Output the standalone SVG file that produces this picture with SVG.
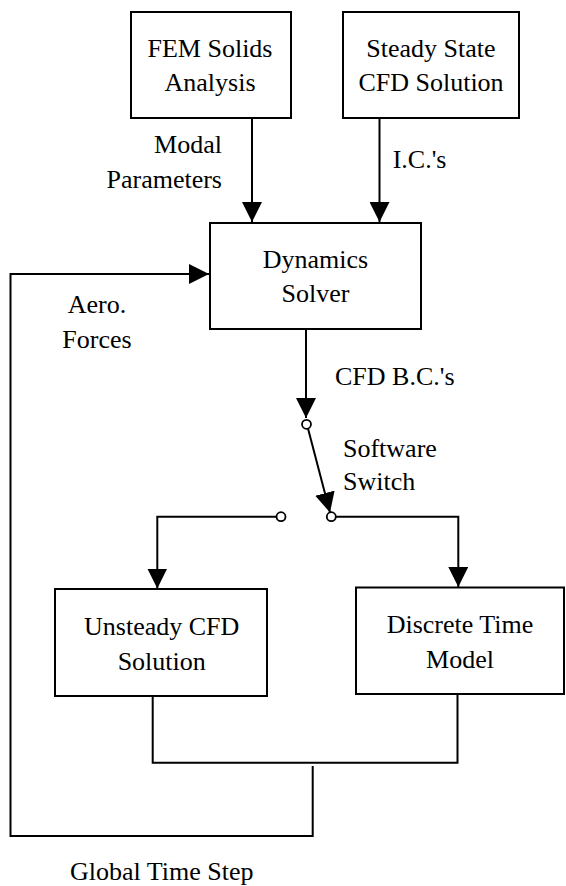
<svg xmlns="http://www.w3.org/2000/svg" width="566" height="886" viewBox="0 0 566 886">
<defs>
  <marker id="arr" markerUnits="userSpaceOnUse" markerWidth="20" markerHeight="20" refX="20" refY="10" orient="auto">
    <path d="M0,0 L20,10 L0,20 z" fill="#000"/>
  </marker>
</defs>
<rect width="566" height="886" fill="#fff"/>
<g id="connectors" fill="none" stroke="#000" stroke-width="2">
  <path marker-end="url(#arr)" d="M252,118 V222"/>
  <path marker-end="url(#arr)" d="M379.5,118 V222"/>
  <path marker-end="url(#arr)" d="M312.7,766 V836 H10.5 V274 H209"/>
  <path d="M152.7,696 V762.7 H457.5 V694"/>
  <path marker-end="url(#arr)" d="M306,329 V418"/>
  <path marker-end="url(#arr)" d="M308,428.5 L330,512.5"/>
  <path marker-end="url(#arr)" d="M276.5,516.7 H157.3 V588.5"/>
  <path marker-end="url(#arr)" d="M335.8,516.7 H458.3 V587"/>
  <circle fill="#fff" stroke-width="1.8" cx="306.5" cy="424.3" r="4.5"/>
  <circle fill="#fff" stroke-width="1.8" cx="281" cy="516.7" r="4.5"/>
  <circle fill="#fff" stroke-width="1.8" cx="331.3" cy="516.7" r="4.5"/>
</g>
<g id="fem">
  <rect fill="#fff" stroke="#000" stroke-width="2" x="131" y="12" width="160" height="106"/>
  <text font-family="Liberation Serif" font-size="26" text-anchor="middle" x="210" y="57">FEM Solids</text>
  <text font-family="Liberation Serif" font-size="26" text-anchor="middle" x="210" y="91">Analysis</text>
</g>
<g id="steady">
  <rect fill="#fff" stroke="#000" stroke-width="2" x="343" y="12" width="176" height="106"/>
  <text font-family="Liberation Serif" font-size="26" text-anchor="middle" x="431" y="57">Steady State</text>
  <text font-family="Liberation Serif" font-size="26" text-anchor="middle" x="431" y="91">CFD Solution</text>
</g>
<g id="dynamics">
  <rect fill="#fff" stroke="#000" stroke-width="2" x="210" y="223" width="211" height="106"/>
  <text font-family="Liberation Serif" font-size="26" text-anchor="middle" x="315.5" y="268">Dynamics</text>
  <text font-family="Liberation Serif" font-size="26" text-anchor="middle" x="315.5" y="302">Solver</text>
</g>
<g id="unsteady">
  <rect fill="#fff" stroke="#000" stroke-width="2" x="55" y="589" width="212" height="107"/>
  <text font-family="Liberation Serif" font-size="26" text-anchor="middle" x="161.7" y="635">Unsteady CFD</text>
  <text font-family="Liberation Serif" font-size="26" text-anchor="middle" x="161.7" y="670">Solution</text>
</g>
<g id="discrete">
  <rect fill="#fff" stroke="#000" stroke-width="2" x="356" y="587.5" width="208" height="106.5"/>
  <text font-family="Liberation Serif" font-size="26" text-anchor="middle" x="460" y="633.3">Discrete Time</text>
  <text font-family="Liberation Serif" font-size="26" text-anchor="middle" x="460" y="667.7">Model</text>
</g>
<g id="labels">
  <text font-family="Liberation Serif" font-size="26" text-anchor="end" x="222" y="153">Modal</text>
  <text font-family="Liberation Serif" font-size="26" text-anchor="end" x="222" y="188">Parameters</text>
  <text font-family="Liberation Serif" font-size="26" x="392.7" y="168">I.C.'s</text>
  <text font-family="Liberation Serif" font-size="26" text-anchor="middle" x="97" y="313">Aero.</text>
  <text font-family="Liberation Serif" font-size="26" text-anchor="middle" x="97" y="348">Forces</text>
  <text font-family="Liberation Serif" font-size="26" x="335" y="384.5">CFD B.C.'s</text>
  <text font-family="Liberation Serif" font-size="26" x="343" y="457">Software</text>
  <text font-family="Liberation Serif" font-size="26" x="343" y="490">Switch</text>
  <text font-family="Liberation Serif" font-size="26" text-anchor="middle" x="161.7" y="880">Global Time Step</text>
</g>
</svg>
